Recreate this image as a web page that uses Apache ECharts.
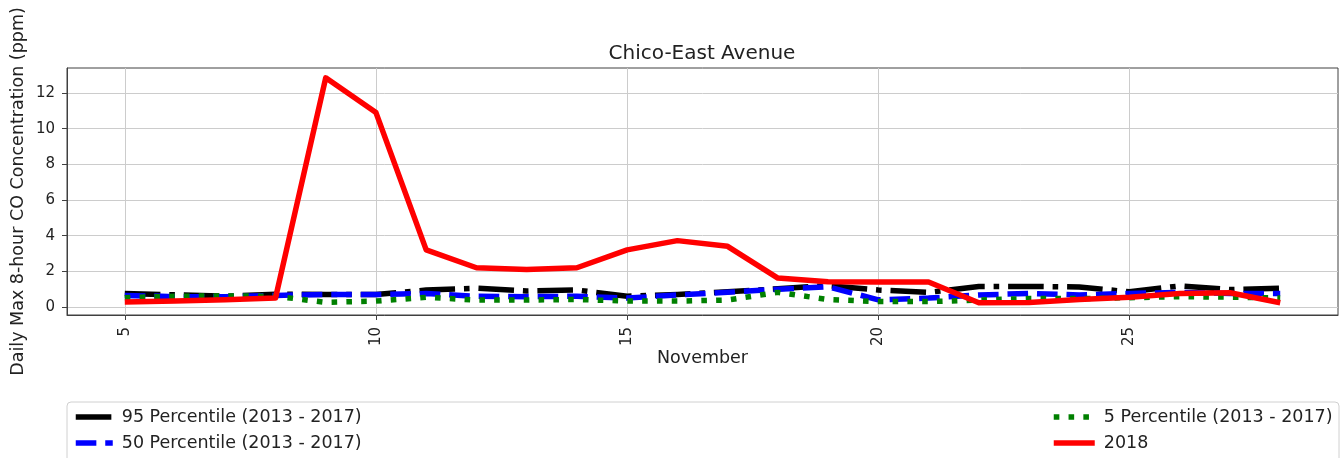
<!DOCTYPE html>
<html>
<head>
<meta charset="utf-8">
<script src="https://cdn.jsdelivr.net/npm/echarts@6/dist/echarts.min.js"></script>
<style>
  html, body { margin: 0; padding: 0; background: #fff; }
  #chart { width: 1344px; height: 458px; }
</style>
</head>
<body>
<div id="chart"></div>
<script>
// November days and daily max 8-hour CO (ppm)
const days = [5, 6, 7, 8, 9, 10, 11, 12, 13, 14, 15, 16, 17, 18, 19, 20, 21, 22, 23, 24, 25, 26, 27, 28];
const p95 = [0.75, 0.68, 0.6, 0.72, 0.7, 0.7, 0.95, 1.05, 0.9, 0.95, 0.6, 0.7, 0.85, 1.02, 1.2, 0.95, 0.82, 1.15, 1.15, 1.12, 0.85, 1.18, 0.98, 1.05];
const p50 = [0.65, 0.58, 0.58, 0.65, 0.7, 0.7, 0.75, 0.6, 0.58, 0.6, 0.5, 0.67, 0.82, 1.0, 1.13, 0.4, 0.5, 0.67, 0.76, 0.67, 0.76, 0.82, 0.76, 0.76];
const p5 = [0.52, 0.6, 0.62, 0.6, 0.26, 0.33, 0.54, 0.39, 0.39, 0.42, 0.33, 0.33, 0.39, 0.82, 0.42, 0.3, 0.3, 0.39, 0.47, 0.47, 0.52, 0.58, 0.55, 0.5];
const y2018 = [0.28, 0.33, 0.4, 0.5, 12.85, 10.9, 3.2, 2.2, 2.1, 2.2, 3.2, 3.72, 3.4, 1.62, 1.42, 1.4, 1.4, 0.24, 0.25, 0.42, 0.55, 0.75, 0.8, 0.24];
const xTicks = [5, 10, 15, 20, 25];
const yTicks = [0, 2, 4, 6, 8, 10, 12];
const seriesNames = ['95 Percentile (2013 - 2017)', '50 Percentile (2013 - 2017)', '5 Percentile (2013 - 2017)', '2018'];

const FONT = 'DejaVu Sans';
const TEXT = '#222';
const LW = 5.5;
const pairs = (ys) => days.map((d, i) => [d, ys[i]]);

function lineSeries(name, ys, color, type, z) {
  return {
    name: name,
    type: 'line',
    data: pairs(ys),
    symbol: 'none',
    z: z,
    lineStyle: { color: color, width: LW, type: type, cap: 'butt', join: 'round' },
    itemStyle: { color: color }
  };
}

// one legend block per entry, laid out as two columns
function legendEntry(name, left, top, width) {
  return {
    data: [name],
    left: left, top: top, padding: 0,
    itemWidth: width, itemHeight: 14,
    itemStyle: { opacity: 0 },
    lineStyle: { width: LW },
    textStyle: { fontFamily: FONT, fontSize: 17.5, color: TEXT, padding: [0, 0, 0, 4] }
  };
}

const chart = echarts.init(document.getElementById('chart'), null, { renderer: 'canvas' });
chart.setOption({
  animation: false,
  backgroundColor: '#fff',
  textStyle: { fontFamily: FONT },
  title: {
    text: 'Chico-East Avenue',
    left: 702, top: 44, textAlign: 'center', padding: 0,
    textStyle: { fontFamily: FONT, fontSize: 20, fontWeight: 'normal', color: TEXT }
  },
  grid: {
    left: 67, right: 6, top: 68, bottom: 143,
    outerBoundsMode: 'none', containLabel: false,
    show: true, borderColor: '#404040', borderWidth: 1
  },
  xAxis: {
    type: 'value', min: 3.85, max: 29.15,
    name: 'November', nameLocation: 'middle', nameGap: 34, nameMoveOverlap: false,
    nameTextStyle: { fontFamily: FONT, fontSize: 17.5, color: TEXT },
    axisLine: { show: true, onZero: false, lineStyle: { color: '#404040' } },
    axisTick: { show: true, length: 5, customValues: xTicks, lineStyle: { color: '#404040' } },
    axisLabel: { customValues: xTicks, rotate: 90, fontFamily: FONT, fontSize: 15, color: TEXT, margin: 12 },
    splitLine: { show: true, lineStyle: { color: '#cccccc', width: 1 } }
  },
  yAxis: {
    type: 'value', min: -0.45, max: 13.4,
    name: 'Daily Max 8-hour CO Concentration (ppm)', nameLocation: 'middle', nameGap: 40, nameMoveOverlap: false,
    nameTextStyle: { fontFamily: FONT, fontSize: 17.5, color: TEXT },
    axisLine: { show: true, onZero: false, lineStyle: { color: '#404040' } },
    axisTick: { show: true, length: 5, customValues: yTicks, lineStyle: { color: '#404040' } },
    axisLabel: { customValues: yTicks, fontFamily: FONT, fontSize: 15, color: TEXT, margin: 12 },
    splitLine: { show: true, lineStyle: { color: '#cccccc', width: 1 } }
  },
  legend: [
    legendEntry(seriesNames[0], 73, 408, 37),
    legendEntry(seriesNames[1], 73, 434, 37),
    legendEntry(seriesNames[2], 1051, 408, 41),
    legendEntry(seriesNames[3], 1051, 434, 41)
  ],
  graphic: [{
    type: 'rect', z: -1,
    shape: { x: 67, y: 402, width: 1272, height: 80, r: 4 },
    style: { fill: '#fff', stroke: '#d0d0d0', lineWidth: 1 }
  }],
  series: [
    lineSeries(seriesNames[0], p95, '#000000', [35.6, 8.9, 5.6, 8.9], 2),
    lineSeries(seriesNames[1], p50, '#0000ff', [20.6, 8.9], 3),
    lineSeries(seriesNames[2], p5, '#008000', [5.6, 9.2], 4),
    lineSeries(seriesNames[3], y2018, '#ff0000', 'solid', 5)
  ]
});
</script>
</body>
</html>
